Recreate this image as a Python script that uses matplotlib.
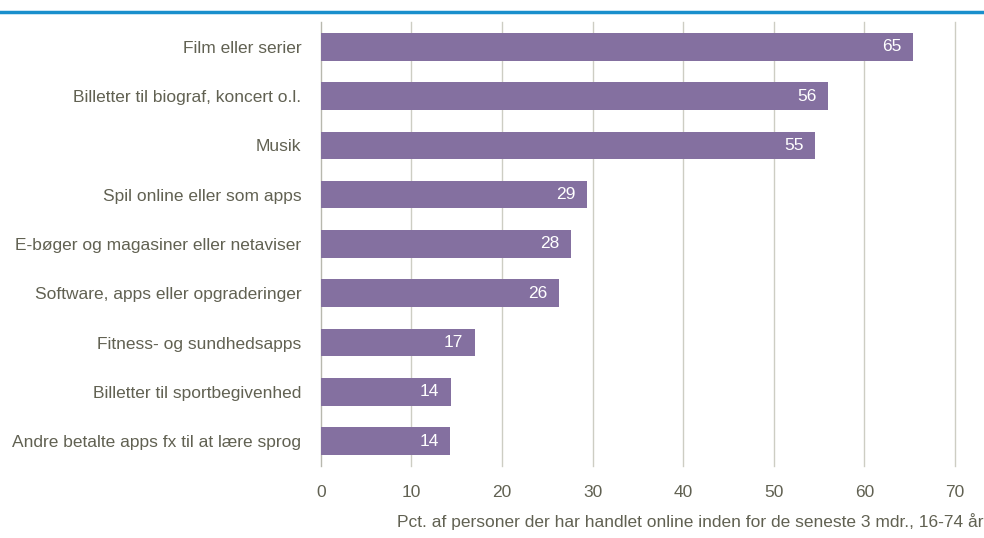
import matplotlib.pyplot as plt

categories = [
    "Film eller serier",
    "Billetter til biograf, koncert o.l.",
    "Musik",
    "Spil online eller som apps",
    "E-bøger og magasiner eller netaviser",
    "Software, apps eller opgraderinger",
    "Fitness- og sundhedsapps",
    "Billetter til sportbegivenhed",
    "Andre betalte apps fx til at lære sprog",
]
values = [65.4, 56.0, 54.6, 29.4, 27.6, 26.3, 17.0, 14.4, 14.3]
xticks = [0, 10, 20, 30, 40, 50, 60, 70]
xlabel = "Pct. af personer der har handlet online inden for de seneste 3 mdr., 16-74 år"

plt.rcParams['font.family'] = ['Liberation Sans', 'DejaVu Sans']

bar_color = '#8470a0'
text_color = '#616152'
grid_color = '#cdcdc3'

fig = plt.figure(figsize=(9.84, 5.38), dpi=100)
ax = fig.add_axes([0.326, 0.134, 0.6445, 0.825])

pos = list(range(len(categories)))
ax.barh(pos, values, height=0.56, color=bar_color, zorder=3)
for y, v in zip(pos, values):
    ax.text(v - 1.3, y, "%.0f" % v, color='white', fontsize=12.5,
            ha='right', va='center', zorder=4)

ax.set_ylim(len(categories) - 0.5, -0.5)
ax.set_xlim(0, 70)
ax.set_xticks(xticks)
ax.set_yticks(pos)
ax.set_yticklabels(categories)
ax.xaxis.grid(True, color=grid_color, linewidth=1, zorder=0)
for gl in ax.get_xgridlines():
    gl.set_clip_on(False)
for s in ['top', 'right', 'bottom']:
    ax.spines[s].set_visible(False)
ax.spines['left'].set_color('#b8b8ae')
ax.tick_params(axis='both', length=0, colors=text_color, labelsize=12.5)
ax.tick_params(axis='y', pad=14)
ax.tick_params(axis='x', pad=14)

fig.text(0.999, 0.015, xlabel, ha='right', va='bottom', color=text_color, fontsize=12.5)

# blue rule across the top
fig.add_artist(plt.Line2D([0, 1], [0.978, 0.978], transform=fig.transFigure,
                          color='#1a8fcc', linewidth=2.5))

fig.savefig('out.png', dpi=100)
